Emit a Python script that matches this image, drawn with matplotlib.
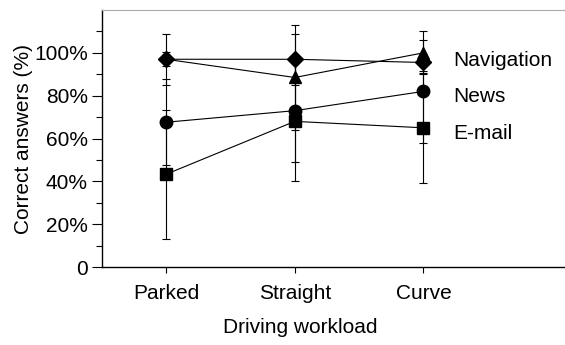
import matplotlib
matplotlib.use('Agg')
import matplotlib.pyplot as plt
from matplotlib.ticker import FixedLocator

plt.rcParams['font.family'] = ['Liberation Sans', 'DejaVu Sans']

# conditions and mean correct answers (%) with error bars
conditions = ['Parked', 'Straight', 'Curve']
navigation = [97, 88.5, 100]
navigation_err = [3.3, 24.4, 10]
navigation_b = [97, 97, 95.5]
navigation_b_err = [12, 12, 4]
news = [67.6, 73, 82]
news_err = [20, 24, 24]
email = [43.3, 68, 65]
email_err = [30, 28, 25.6]

fig = plt.figure(figsize=(5.65, 3.45), dpi=100)
ax = fig.add_axes([0.18, 0.226, 0.82, 0.745])

x = range(len(conditions))
mk = dict(color='black', lw=0.8, ecolor='black', elinewidth=0.8,
          capsize=3, capthick=0.8)
ax.errorbar(x, email, yerr=email_err, marker='s', ms=8, **mk)
ax.errorbar(x, news, yerr=news_err, marker='o', ms=9, **mk)
# triangle at Parked sits under the diamond, so only the later points get a marker
ax.errorbar(x, navigation, yerr=navigation_err, marker='^', ms=8.5,
            markevery=[1, 2], **mk)
ax.errorbar(x, navigation_b, yerr=navigation_b_err, marker='D', ms=8, **mk)

# series names written next to the last point
fs = 15
ax.text(2.23, 96.5, 'Navigation', fontsize=fs, va='center')
ax.text(2.23, 79.5, 'News', fontsize=fs, va='center')
ax.text(2.23, 62.5, 'E-mail', fontsize=fs, va='center')

ax.set_xlim(-0.5, 3.1)
ax.set_ylim(0, 120)
ax.set_xticks(list(x))
ax.set_xticklabels(conditions, fontsize=fs)
ax.yaxis.set_major_locator(FixedLocator([0, 20, 40, 60, 80, 100]))
ax.set_yticklabels(['0', '20%', '40%', '60%', '80%', '100%'], fontsize=fs)
ax.yaxis.set_minor_locator(FixedLocator([10, 30, 50, 70, 90, 110]))
ax.tick_params(axis='y', which='major', length=7, width=0.8, pad=3)
ax.tick_params(axis='y', which='minor', length=4, width=0.8)
ax.tick_params(axis='x', length=4, width=0.8, pad=8)

ax.spines['right'].set_visible(False)
ax.spines['top'].set_color('#aaaaaa')
ax.spines['left'].set_linewidth(1.0)
ax.spines['bottom'].set_linewidth(1.0)

ax.set_ylabel('Correct answers (%)', fontsize=fs, labelpad=1)
ax.set_xlabel('Driving workload', fontsize=fs)
ax.xaxis.set_label_coords(0.429, -0.2)

fig.savefig('out.png', dpi=100)
